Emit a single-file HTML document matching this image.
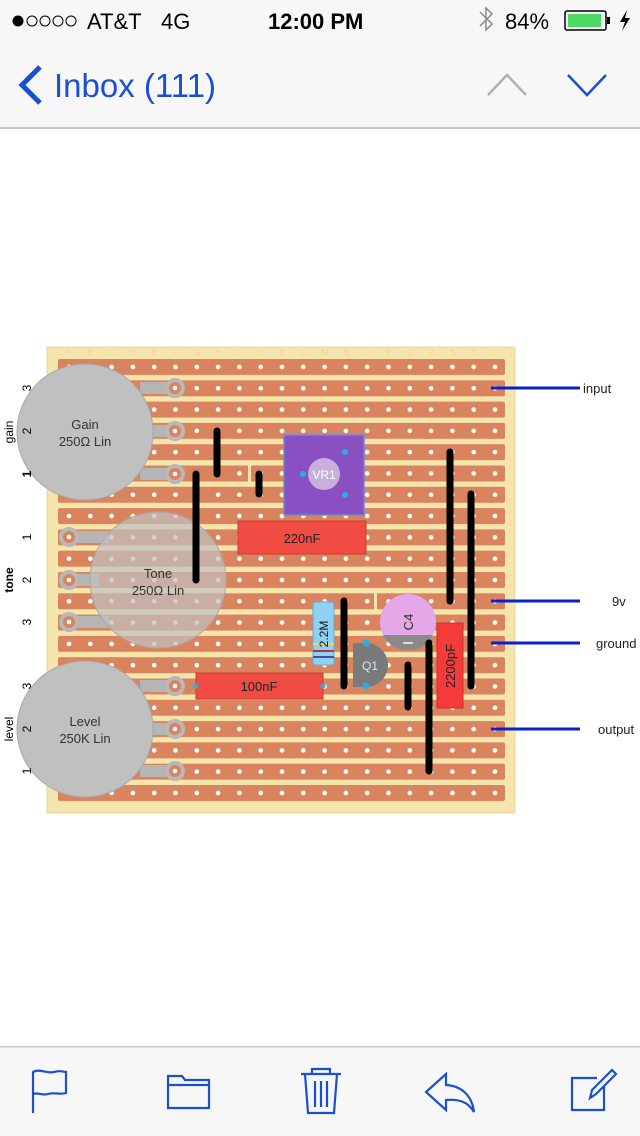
<!DOCTYPE html>
<html><head><meta charset="utf-8"><style>
html,body{margin:0;padding:0;width:640px;height:1136px;overflow:hidden;background:#fff;font-family:"Liberation Sans",sans-serif}
</style></head><body>
<svg width="640" height="1136" viewBox="0 0 640 1136" xmlns="http://www.w3.org/2000/svg" font-family="Liberation Sans, sans-serif">
<defs>
<pattern id="strip" x="58" y="359" width="460" height="21.3" patternUnits="userSpaceOnUse">
<rect x="0" y="0" width="447" height="16" rx="2" fill="#d9845f"/>
</pattern>
<pattern id="holes" x="58.35" y="356.35" width="21.3" height="21.3" patternUnits="userSpaceOnUse">
<circle cx="10.65" cy="10.65" r="2.3" fill="#fff"/>
</pattern>
</defs>
<!-- header -->
<rect x="0" y="0" width="640" height="128" fill="#f7f7f7"/>
<rect x="0" y="127" width="640" height="2" fill="#c8c8c8"/>
<circle cx="18" cy="21" r="5.5" fill="#000"/>
<circle cx="32" cy="21" r="5" fill="none" stroke="#000" stroke-width="1"/>
<circle cx="45" cy="21" r="5" fill="none" stroke="#000" stroke-width="1"/>
<circle cx="58" cy="21" r="5" fill="none" stroke="#000" stroke-width="1"/>
<circle cx="71" cy="21" r="5" fill="none" stroke="#000" stroke-width="1"/>
<text x="87" y="29" font-size="22" fill="#000">AT&amp;T</text>
<text x="161" y="29" font-size="22" fill="#000">4G</text>
<text x="268" y="29" font-size="22" font-weight="bold" fill="#000">12:00 PM</text>
<path d="M480 12 L492 24 L486 30 L486 8 L492 14 L480 26" fill="none" stroke="#888" stroke-width="1.5"/>
<text x="505" y="29" font-size="22" fill="#000">84%</text>
<rect x="565" y="11" width="41" height="19" rx="2" fill="none" stroke="#000" stroke-width="1.5"/>
<rect x="568" y="14" width="33" height="13" fill="#4cd964"/>
<rect x="607" y="17" width="3" height="7" fill="#000"/>
<path d="M627 10 L620 22 L625 22 L622 31 L630 18 L625 18 Z" fill="#000"/>
<path d="M40 67 L22 85 L40 103" fill="none" stroke="#1a50d0" stroke-width="5"/>
<text x="54" y="97" font-size="33" fill="#1a50d0">Inbox (111)</text>
<path d="M488 95 L507 75 L526 95" fill="none" stroke="#b0b0b0" stroke-width="2.5"/>
<path d="M568 75 L587 95 L606 75" fill="none" stroke="#1a50d0" stroke-width="2.5"/>
<!-- board -->
<rect x="47" y="347" width="468" height="466" fill="#f5e4ab" stroke="#e8d59a"/>
<rect x="58" y="359" width="447" height="447" fill="url(#strip)"/>
<rect x="58" y="356" width="447" height="450" fill="url(#holes)"/>
<g font-size="8" fill="#e8d7a0" text-anchor="middle">
<text x="69" y="355">A</text><text x="90" y="355">B</text><text x="111" y="355">C</text><text x="133" y="355">D</text><text x="154" y="355">E</text><text x="175" y="355">F</text><text x="197" y="355">G</text><text x="218" y="355">H</text><text x="239" y="355">I</text><text x="261" y="355">J</text><text x="282" y="355">K</text><text x="303" y="355">L</text><text x="325" y="355">M</text><text x="346" y="355">N</text><text x="367" y="355">O</text><text x="389" y="355">P</text><text x="410" y="355">Q</text><text x="431" y="355">R</text><text x="453" y="355">S</text><text x="474" y="355">T</text><text x="495" y="355">U</text>
</g>
<!-- track cuts -->
<rect x="248" y="464" width="3" height="20" fill="#f5e4ab"/>
<rect x="374" y="591" width="3" height="20" fill="#f5e4ab"/>
<!-- pot links -->
<g fill="#b5b5b5">
<rect x="140" y="382" width="36" height="12"/><rect x="150" y="425" width="26" height="12"/><rect x="140" y="468" width="36" height="12"/>
<rect x="140" y="680" width="36" height="12"/><rect x="150" y="723" width="26" height="12"/><rect x="140" y="765" width="36" height="12"/>
<rect x="69" y="531" width="40" height="12"/><rect x="69" y="574" width="30" height="12"/><rect x="69" y="616" width="40" height="12"/>
</g>
<g fill="#d9845f" stroke="#b8b8b8" stroke-width="4">
<circle cx="175" cy="388" r="8"/><circle cx="175" cy="431" r="8"/><circle cx="175" cy="474" r="8"/>
<circle cx="175" cy="686" r="8"/><circle cx="175" cy="729" r="8"/><circle cx="175" cy="771" r="8"/>
<circle cx="69" cy="537" r="8"/><circle cx="69" cy="580" r="8"/><circle cx="69" cy="622" r="8"/>
</g>
<g fill="#fff"><circle cx="175" cy="388" r="2.3"/><circle cx="175" cy="431" r="2.3"/><circle cx="175" cy="474" r="2.3"/><circle cx="175" cy="686" r="2.3"/><circle cx="175" cy="729" r="2.3"/><circle cx="175" cy="771" r="2.3"/><circle cx="69" cy="537" r="2.3"/><circle cx="69" cy="580" r="2.3"/><circle cx="69" cy="622" r="2.3"/></g>
<!-- pots -->
<circle cx="85" cy="432" r="68" fill="#c0c0c0" stroke="#a8a8a8"/>
<text x="85" y="429" font-size="13" text-anchor="middle" fill="#333">Gain</text>
<text x="85" y="446" font-size="13" text-anchor="middle" fill="#333">250Ω Lin</text>
<circle cx="158" cy="580" r="68" fill="#c0c0c0" fill-opacity="0.7" stroke="#a8a8a8"/>
<text x="158" y="578" font-size="13" text-anchor="middle" fill="#333">Tone</text>
<text x="158" y="595" font-size="13" text-anchor="middle" fill="#333">250Ω Lin</text>
<circle cx="85" cy="729" r="68" fill="#c0c0c0" stroke="#a8a8a8"/>
<text x="85" y="726" font-size="13" text-anchor="middle" fill="#333">Level</text>
<text x="85" y="743" font-size="13" text-anchor="middle" fill="#333">250K Lin</text>
<!-- side labels -->
<g font-size="12" fill="#000" text-anchor="middle">
<text transform="translate(13,432) rotate(-90)">gain</text>
<text transform="translate(13,580) rotate(-90)" font-weight="bold">tone</text>
<text transform="translate(13,729) rotate(-90)">level</text>
<text transform="translate(31,388) rotate(-90)">3</text><text transform="translate(31,431) rotate(-90)">2</text><text transform="translate(31,474) rotate(-90)" font-weight="bold">1</text>
<text transform="translate(31,537) rotate(-90)">1</text><text transform="translate(31,580) rotate(-90)">2</text><text transform="translate(31,622) rotate(-90)">3</text>
<text transform="translate(31,686) rotate(-90)">3</text><text transform="translate(31,729) rotate(-90)">2</text><text transform="translate(31,771) rotate(-90)">1</text>
</g>
<!-- VR1 -->
<rect x="284" y="435" width="80" height="80" fill="#8a4fc0" stroke="#6a8ad8" stroke-width="1.5"/>
<circle cx="324" cy="474" r="16" fill="#c7b0dd"/>
<text x="324" y="479" font-size="12" text-anchor="middle" fill="#fff">VR1</text>
<g fill="#2aaee8"><circle cx="303" cy="474" r="3"/><circle cx="345" cy="452" r="3"/><circle cx="345" cy="495" r="3"/></g>
<!-- caps -->
<rect x="238" y="521" width="128" height="33" fill="#f04c44" stroke="#c84030"/>
<text x="302" y="543" font-size="13" text-anchor="middle" fill="#222">220nF</text>
<rect x="196" y="673" width="127" height="26" fill="#f04c44" stroke="#c84030"/>
<text x="259" y="691" font-size="13" text-anchor="middle" fill="#222">100nF</text>
<circle cx="196" cy="686" r="2.5" fill="#2aaee8"/><circle cx="323" cy="686" r="2.5" fill="#2aaee8"/>
<rect x="437" y="623" width="26" height="85" fill="#f53a3a" stroke="#c83030"/>
<text transform="translate(455,666) rotate(-90)" font-size="13" text-anchor="middle" fill="#222">2200pF</text>
<!-- resistor -->
<rect x="313" y="602" width="21" height="63" rx="2" fill="#8fd0f5" stroke="#6aa8d8"/>
<rect x="313" y="643" width="21" height="2" fill="#e8e030"/><rect x="313" y="650" width="21" height="2" fill="#c03040"/><rect x="313" y="656" width="21" height="2" fill="#4050a0"/>
<text transform="translate(328,634) rotate(-90)" font-size="12" text-anchor="middle" fill="#111">2.2M</text>
<!-- Q1 -->
<path d="M366 643 A22 22 0 0 1 366 687 Z" fill="#7a7a7a"/>
<rect x="353" y="643" width="13" height="44" fill="#7a7a7a"/>
<path d="M353 643 L366 643 L366 687 L353 687 Z" fill="#7a7a7a"/>
<text x="370" y="670" font-size="12" text-anchor="middle" fill="#d0e8f8">Q1</text>
<circle cx="366" cy="643" r="3.5" fill="#2aaee8"/><circle cx="366" cy="686" r="3.5" fill="#2aaee8"/>
<!-- C4 -->
<circle cx="408" cy="622" r="28" fill="#e4a8e8"/>
<path d="M383 635 A28 28 0 0 0 433 635 Z" fill="#8a8a8a"/>
<rect x="403" y="642" width="10" height="2" fill="#ddd"/>
<text transform="translate(413,622) rotate(-90)" font-size="13" text-anchor="middle" fill="#333">C4</text>
<!-- wires -->
<g stroke="#000" stroke-width="7" stroke-linecap="round">
<line x1="217" y1="431" x2="217" y2="474"/>
<line x1="196" y1="474" x2="196" y2="580"/>
<line x1="259" y1="474" x2="259" y2="494"/>
<line x1="344" y1="601" x2="344" y2="686"/>
<line x1="408" y1="665" x2="408" y2="707"/>
<line x1="450" y1="452" x2="450" y2="601"/>
<line x1="471" y1="494" x2="471" y2="686"/>
<line x1="429" y1="643" x2="429" y2="771"/>
</g>
<!-- outputs -->
<g stroke="#0a20d0" stroke-width="3">
<line x1="491" y1="388" x2="580" y2="388"/>
<line x1="491" y1="601" x2="580" y2="601"/>
<line x1="491" y1="643" x2="580" y2="643"/>
<line x1="491" y1="729" x2="580" y2="729"/>
</g>
<g font-size="13" fill="#222">
<text x="583" y="393">input</text>
<text x="612" y="606">9v</text>
<text x="596" y="648">ground</text>
<text x="598" y="734">output</text>
</g>
<!-- toolbar -->
<rect x="0" y="1047" width="640" height="89" fill="#f7f7f7"/>
<rect x="0" y="1046" width="640" height="1.5" fill="#c8c8c8"/>
<g fill="none" stroke="#1a50d0" stroke-width="2.2">
<path d="M33 1113 L33 1072 C40 1068 46 1074 54 1072 C60 1070 64 1072 66 1072 L66 1093 C60 1095 55 1092 48 1094 C42 1096 38 1092 33 1094"/>
<path d="M168 1108 L168 1076 L182 1076 L185 1080 L209 1080 L209 1108 Z M168 1085 L209 1085"/>
<path d="M301 1074 L341 1074 M312 1074 L312 1069 L330 1069 L330 1074 M305 1074 L308 1113 L334 1113 L337 1074 M315 1081 L315 1107 M321 1081 L321 1107 M327 1081 L327 1107"/>
<path d="M446 1074 L426 1092 L446 1110 L446 1100 C460 1099 468 1102 474 1112 C472 1096 462 1086 446 1085 Z"/>
<path d="M597 1078 L572 1078 L572 1110 L604 1110 L604 1086 M590 1098 L592 1090 L612 1070 L616 1074 L596 1094 Z"/>
</g>
</svg>
</body></html>
